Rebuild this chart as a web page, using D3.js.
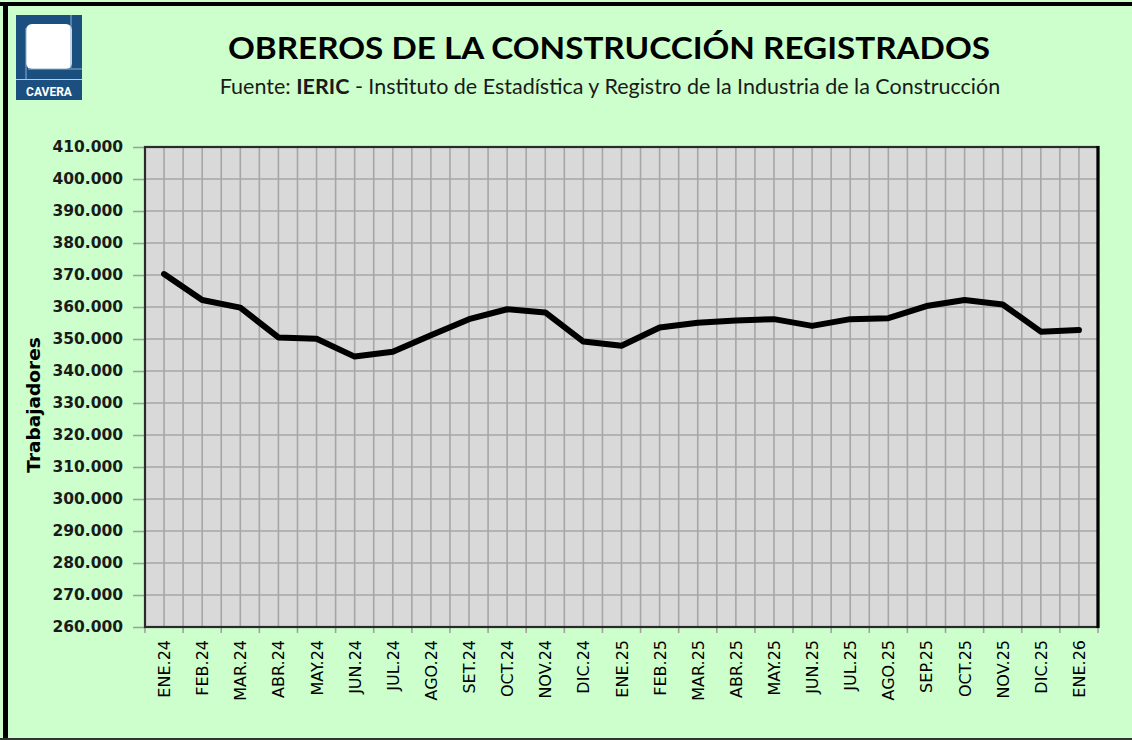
<!DOCTYPE html>
<html>
<head>
<meta charset="utf-8">
<script src="https://cdn.jsdelivr.net/npm/d3@7"></script>
<style>
  body { margin: 0; background: #ccffcc; }
  svg { display: block; }
</style>
</head>
<body>
<div id="chart"></div>
<script>

// datos
var meses = ['ENE.24','FEB.24','MAR.24','ABR.24','MAY.24','JUN.24','JUL.24','AGO.24','SET.24','OCT.24','NOV.24','DIC.24',
             'ENE.25','FEB.25','MAR.25','ABR.25','MAY.25','JUN.25','JUL.25','AGO.25','SEP.25','OCT.25','NOV.25','DIC.25','ENE.26']
var trabajadores = [370300, 362200, 359800, 350500, 350100, 344500, 346000, 351200, 356200, 359300, 358300, 349200,
                    347900, 353600, 355100, 355800, 356200, 354100, 356200, 356500, 360300, 362200, 360800, 352300, 352800]
var y_ticks = d3.range(260000, 410001, 10000)

var W = 1132, H = 740
var mLeft = 145, mRight = 1098, mTop = 147, mBottom = 627

var svg = d3.select('#chart').append('svg')
    .attr('width', W).attr('height', H)

// fondo y marco
svg.append('rect').attr('width', W).attr('height', H).attr('fill', '#ccffcc')
svg.append('rect').attr('x', 0).attr('y', 2).attr('width', W).attr('height', 4).attr('fill', '#000')
svg.append('rect').attr('x', 3).attr('y', 2).attr('width', 5).attr('height', H).attr('fill', '#000')
svg.append('rect').attr('x', 0).attr('y', 738).attr('width', W).attr('height', 2).attr('fill', '#333')

// logo CAVERA
var logo = svg.append('g')
logo.append('rect').attr('x', 16).attr('y', 15).attr('width', 66).attr('height', 85).attr('fill', '#1b4f7f')
logo.append('rect').attr('x', 26).attr('y', 24).attr('width', 46).attr('height', 45).attr('rx', 6).attr('fill', '#fff')
logo.append('line').attr('x1', 71).attr('x2', 71).attr('y1', 15).attr('y2', 68).attr('stroke', '#8fb0cf').attr('stroke-width', 1)
logo.append('line').attr('x1', 26).attr('x2', 26).attr('y1', 28).attr('y2', 79).attr('stroke', '#8fb0cf').attr('stroke-width', 1)
logo.append('line').attr('x1', 28).attr('x2', 82).attr('y1', 69).attr('y2', 69).attr('stroke', '#8fb0cf').attr('stroke-width', 1)
logo.append('line').attr('x1', 16).attr('x2', 82).attr('y1', 79.5).attr('y2', 79.5).attr('stroke', '#b8cde0').attr('stroke-width', 1.2)
logo.append('text').attr('x', 49).attr('y', 96).attr('text-anchor', 'middle')
    .attr('font-family', 'Roboto, Arial').attr('font-weight', 'bold').attr('font-size', 12)
    .attr('fill', '#fff').text('CAVERA')

// titulos
svg.append('text').attr('x', 609).attr('y', 59).attr('text-anchor', 'middle')
    .attr('font-family', 'Lato, "Open Sans", sans-serif').attr('font-weight', 'bold').attr('font-size', 31)
    .attr('textLength', 762).attr('lengthAdjust', 'spacingAndGlyphs')
    .attr('fill', '#000').text('OBREROS DE LA CONSTRUCCIÓN REGISTRADOS')

var sub = svg.append('text').attr('x', 610).attr('y', 94).attr('text-anchor', 'middle')
    .attr('font-family', 'Lato, "Open Sans", sans-serif').attr('font-size', 21.5).attr('fill', '#1a1a1a')
sub.append('tspan').text('Fuente: ')
sub.append('tspan').attr('font-weight', 'bold').text('IERIC')
sub.append('tspan').text(' - Instituto de Estadística y Registro de la Industria de la Construcción')

// escalas
var x = d3.scaleBand().domain(meses).range([mLeft, mRight]).padding(0)
var y = d3.scaleLinear().domain([260000, 410000]).range([mBottom, mTop])
var bw = x.bandwidth()

var loc = d3.formatLocale({decimal: ',', thousands: '.', grouping: [3], currency: ['$', '']})
var fmt = loc.format(',.0f')

// area del grafico
svg.append('rect').attr('x', mLeft).attr('y', mTop).attr('width', mRight - mLeft).attr('height', mBottom - mTop)
    .attr('fill', '#d9d9d9')

// grilla vertical: cada limite y cada centro de categoria
var vgrid = []
meses.forEach(function (m) { vgrid.push(x(m)); vgrid.push(x(m) + bw / 2) })
svg.append('g').selectAll('line').data(vgrid).enter().append('line')
    .attr('x1', function (d) { return d }).attr('x2', function (d) { return d })
    .attr('y1', mTop).attr('y2', mBottom)
    .attr('stroke', '#a6a6a6').attr('stroke-width', 1.6)

svg.append('g').selectAll('line').data(y_ticks).enter().append('line')
    .attr('x1', mLeft).attr('x2', mRight)
    .attr('y1', function (d) { return y(d) }).attr('y2', function (d) { return y(d) })
    .attr('stroke', '#a6a6a6').attr('stroke-width', 1.6)

// eje y
var yAxis = d3.axisLeft(y).tickValues(y_ticks).tickSize(12).tickPadding(10).tickFormat(fmt)
var gy = svg.append('g').attr('transform', 'translate(' + mLeft + ',0)').call(yAxis)
gy.select('.domain').remove()
gy.selectAll('.tick line').attr('stroke', '#a0a0a0').attr('stroke-width', 1.6)
gy.selectAll('.tick text')
    .attr('font-family', '"DejaVu Sans", Verdana, sans-serif').attr('font-weight', 'bold')
    .attr('font-size', 15.5).attr('fill', '#1a1a1a')

// eje x
var gx = svg.append('g').attr('transform', 'translate(0,' + mBottom + ')')
gx.selectAll('line').data(meses.concat(['__fin'])).enter().append('line')
    .attr('x1', function (d, i) { return mLeft + i * bw }).attr('x2', function (d, i) { return mLeft + i * bw })
    .attr('y1', 0).attr('y2', 6)
    .attr('stroke', '#a0a0a0').attr('stroke-width', 1.6)
gx.selectAll('text').data(meses).enter().append('text')
    .attr('transform', function (d) { return 'translate(' + (x(d) + bw / 2 + 6) + ',13) rotate(-90)' })
    .attr('text-anchor', 'end')
    .attr('font-family', '"DejaVu Sans", Verdana, sans-serif').attr('font-size', 16)
    .attr('fill', '#000')
    .text(function (d) { return d })

// borde del area
svg.append('rect').attr('x', mLeft).attr('y', mTop).attr('width', mRight - mLeft).attr('height', mBottom - mTop)
    .attr('fill', 'none').attr('stroke', '#2a2a2a').attr('stroke-width', 2.2)
svg.append('line').attr('x1', mRight).attr('x2', mRight).attr('y1', mTop - 1).attr('y2', mBottom + 1)
    .attr('stroke', '#000').attr('stroke-width', 3.2)

// titulo eje y
svg.append('text').attr('transform', 'translate(40,405) rotate(-90)').attr('text-anchor', 'middle')
    .attr('font-family', '"DejaVu Sans", Verdana, sans-serif').attr('font-weight', 'bold').attr('font-size', 18.5)
    .attr('fill', '#000').text('Trabajadores')

// serie
var line = d3.line()
    .x(function (d, i) { return x(meses[i]) + bw / 2 })
    .y(function (d) { return y(d) })
svg.append('path').datum(trabajadores)
    .attr('d', line)
    .attr('fill', 'none').attr('stroke', '#000').attr('stroke-width', 6)
    .attr('stroke-linejoin', 'round').attr('stroke-linecap', 'round')

</script>
</body>
</html>
